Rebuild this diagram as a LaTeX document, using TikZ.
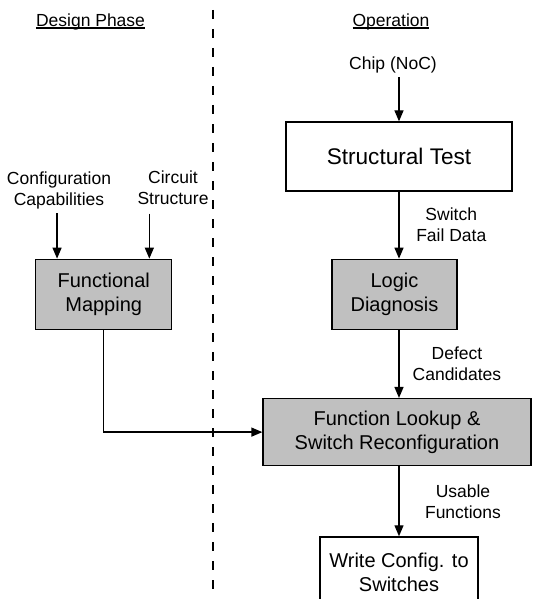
\documentclass[tikz,border=0pt]{standalone}
\usepackage{fontspec}
\setmainfont{Liberation Sans}
\usetikzlibrary{positioning,arrows.meta}
\definecolor{boxgray}{RGB}{192,192,192}
\newcommand{\headline}[1]{\setbox0\hbox{#1}\rlap{\rule[-1.1pt]{\wd0}{0.6pt}}\box0}

\begin{document}
\begin{tikzpicture}[
	line width=0.65pt,
	>={Triangle[length=5.5pt,width=4.5pt]},
	box/.style={rectangle, draw=black, align=center, inner sep=0pt, minimum height=35pt, font=\fontsize{10pt}{12pt}\selectfont},
	whitebox/.style={box, fill=white},
	graybox/.style={box, fill=boxgray},
	note/.style={align=center, inner sep=2pt, font=\fontsize{8.75pt}{10.5pt}\selectfont},
	head/.style={anchor=base, inner sep=0pt, font=\fontsize{8.75pt}{10.5pt}\selectfont}
	]

	\useasboundingbox (0,0) rectangle (267pt,-299.5pt);

	\node (design) [head] at (45.25pt,-13.25pt) {\headline{Design Phase}};
	\node (operation) [head] at (195.5pt,-13.25pt) {\headline{Operation}};
	\coordinate (divtop) at (106.5pt,-5pt);
	\coordinate (divbot) at (106.5pt,-300pt);

	\node (struct) [whitebox, minimum width=113pt, minimum height=34.5pt, font=\fontsize{11.3pt}{13pt}\selectfont] at (199.5pt,-78.25pt) {Structural Test};
		\node (chip) [note, above=22pt of struct, xshift=-3pt] {Chip (NoC)};
		\node (diag) [graybox, below=33.5pt of struct, xshift=-2.25pt, minimum width=62.5pt] {Logic\\Diagnosis};
			\node (lookup) [graybox, below=34pt of diag, xshift=1.25pt, minimum width=134pt, minimum height=33.5pt] {Function Lookup \&\\Switch Reconfiguration};
				\node (write) [whitebox, below=35pt of lookup, xshift=1pt, minimum width=79pt] {Write Config. to\\Switches};

	\node (mapping) [graybox, left=79.5pt of diag, minimum width=68pt] {Functional\\Mapping};
		\coordinate (cfgin) at ([xshift=11pt]mapping.north west);
		\coordinate (cin) at ([xshift=-11.5pt]mapping.north east);
		\node (config) [note] at (29.5pt,-95pt) {Configuration\\Capabilities};
		\node (circuit) [note] at (86.5pt,-94pt) {Circuit\\Structure};

	\draw [dash pattern=on 4.5pt off 5pt] (divtop) -- (divbot);

	\draw [->] (chip.south -| struct.north) -- (struct.north);
	\draw [->] (struct.south) -- (struct.south |- diag.north) node [note, midway, right=6.3pt] {Switch\\Fail Data};
	\draw [->] (struct.south |- diag.south) -- (struct.south |- lookup.north) node [note, midway, right=4.5pt] {Defect\\Candidates};
	\draw [->] (struct.south |- lookup.south) -- (struct.south |- write.north) node [note, midway, right=10.7pt] {Usable\\Functions};

	\draw [->] (config.south -| cfgin) -- (cfgin);
	\draw [->] (circuit.south -| cin) ++(0,-2pt) -- (cin);
	\draw [->] (mapping.south) |- (lookup.west);

\end{tikzpicture}
\end{document}
